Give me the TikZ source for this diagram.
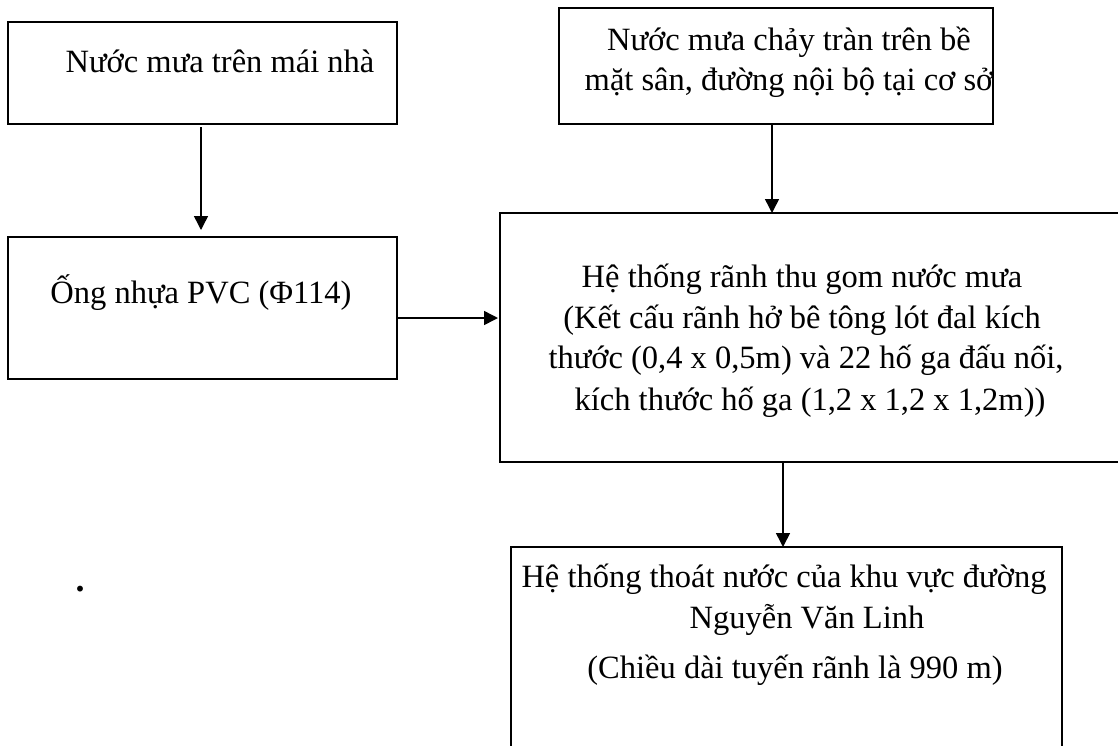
\documentclass[tikz,border=0pt]{standalone}
\usepackage{fontspec}
\setmainfont{Liberation Serif}
\usetikzlibrary{arrows.meta,calc}
\tikzset{
  box/.style={draw, line width=1.5pt, rectangle, inner sep=0pt, outer sep=0pt},
  txt/.style={anchor=base, inner sep=0pt, font=\fontsize{32.5}{41}\selectfont},
  arr/.style={line width=1.5pt, -{Triangle[width=14pt,length=14pt]}}
}
\begin{document}
\begin{tikzpicture}[x=1pt, y=-1pt]
\useasboundingbox (0,0) rectangle (1118,745);
\clip (0,0) rectangle (1118,745);

% boxes
\node[box, minimum width=389pt, minimum height=102pt] (roof) at (202.5,73) {};
\node[box, minimum width=389pt, minimum height=142pt] (pipe) at (202.5,308) {};
\node[box, minimum width=434pt, minimum height=116pt] (yard) at (776,66) {};
\node[box, minimum width=625pt, minimum height=249pt] (ditch) at (812.5,337.5) {};
\node[box, minimum width=551pt, minimum height=220pt] (city) at (786.5,657) {};

% texts
\node[txt] (troof) at (220,72) {Nước mưa trên mái nhà};
\node[txt] (tpipe) at (201,303) {Ống nhựa PVC (Φ114)};
\node[txt] (tyard1) at (789,50) {Nước mưa chảy tràn trên bề};
\node[txt] (tyard2) at (789,90) {mặt sân, đường nội bộ tại cơ sở};
\node[txt] (tditch1) at (802,287) {Hệ thống rãnh thu gom nước mưa};
\node[txt] (tditch2) at (802,328) {(Kết cấu rãnh hở bê tông lót đal kích};
\node[txt] (tditch3) at (806,368) {thước (0,4 x 0,5m) và 22 hố ga đấu nối,};
\node[txt] (tditch4) at (810,410) {kích thước hố ga (1,2 x 1,2 x 1,2m))};
\node[txt] (tcity1) at (784,587) {Hệ thống thoát nước của khu vực đường};
\node[txt] (tcity2) at (807,628) {Nguyễn Văn Linh};
\node[txt] (tcity3) at (795,678) {(Chiều dài tuyến rãnh là 990 m)};
\node[txt, font=\fontsize{36}{41}\selectfont\bfseries] (dot) at (80,591) {.};

% connectors
\draw[arr, shorten <=3pt, shorten >=7pt] ([xshift=-1.5pt]roof.south) -- ([xshift=-1.5pt]pipe.north);
\draw[arr, shorten >=2pt] ([yshift=-10pt]pipe.east) -- ([yshift=-10pt]pipe.east -| ditch.west);
\draw[arr] ([xshift=-4pt]yard.south) -- ([xshift=-4pt]yard.south |- ditch.north);
\draw[arr] ([xshift=-3.5pt]city.north |- ditch.south) -- ([xshift=-3.5pt]city.north);
\end{tikzpicture}
\end{document}
